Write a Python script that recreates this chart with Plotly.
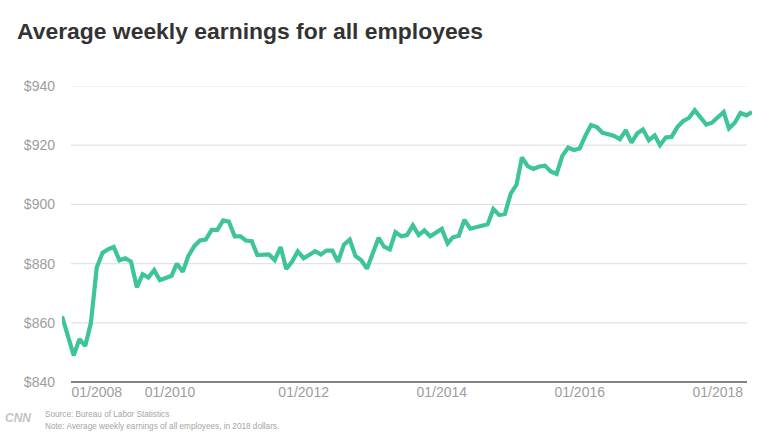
import pandas as pd
import plotly.graph_objects as go

# Monthly average weekly earnings (2018 dollars), Jul 2008 .. Jul 2018
start_month = "2008-07-01"
earnings = [
    862.2, 855.0, 849.0, 854.5, 852.2, 860.0, 878.7, 883.7, 884.8, 885.6,
    881.1, 881.8, 880.7, 872.0, 876.4, 875.3, 877.8, 874.4, 875.1, 875.9,
    880.0, 877.2, 882.6, 885.9, 887.8, 888.1, 891.4, 891.4, 894.6, 894.2,
    889.2, 889.2, 887.8, 887.6, 882.9, 883.1, 883.1, 881.2, 885.6, 878.2,
    880.7, 884.1, 881.8, 883.0, 884.2, 883.1, 884.4, 884.4, 880.6, 886.4,
    888.1, 882.6, 881.1, 878.3, 883.3, 888.7, 885.7, 884.8, 890.6, 889.2,
    889.6, 892.9, 889.6, 891.2, 889.2, 890.3, 891.7, 886.8, 888.9, 889.4,
    894.8, 891.8, 892.3, 892.9, 893.3, 898.4, 896.4, 896.8, 903.6, 906.7,
    915.9, 912.9, 912.0, 912.8, 913.1, 911.1, 910.3, 916.4, 919.2, 918.4,
    918.9, 923.3, 926.8, 926.1, 924.2, 923.7, 923.1, 922.0, 925.1, 920.9,
    924.0, 925.3, 921.7, 923.3, 920.0, 922.6, 922.8, 926.1, 928.1, 929.2,
    931.8, 929.4, 927.0, 927.6, 929.6, 931.2, 925.7, 927.6, 930.9, 930.1,
    931.2,
]
months = pd.date_range(start_month, periods=len(earnings), freq="MS")

# Tick labels as the reference draws them (first two are shifted in the original)
tick_dates = ["2009-01-01", "2010-01-24", "2012-01-01", "2014-01-01", "2016-01-01", "2018-01-01"]
tick_labels = ["01/2008", "01/2010", "01/2012", "01/2014", "01/2016", "01/2018"]
y_ticks = [840, 860, 880, 900, 920, 940]
y_labels = ["$" + str(v) for v in y_ticks]

title_text = "Average weekly earnings for all employees"
source_text = "Source: Bureau of Labor Statistics"
note_text = "Note: Average weekly earnings of all employees, in 2018 dollars."

W, H = 780, 439
ML, MR, MT, MB = 62, 28, 86, 57
plot_w = W - ML - MR
plot_h = H - MT - MB

fig = go.Figure()
fig.add_trace(go.Scatter(
    x=months, y=earnings, mode="lines",
    line=dict(color="#3ec499", width=4.2),
    hoverinfo="skip",
))

# gridlines (inset slightly from the line's extent, as in the reference)
gx0 = 9 / plot_w
gx1 = (plot_w - 5) / plot_w
shapes = []
for v in y_ticks[1:]:
    shapes.append(dict(type="line", xref="paper", yref="y", x0=gx0, x1=gx1, y0=v, y1=v,
                       line=dict(color="#e2e2e8", width=1.2), layer="below"))
# baseline axis line
shapes.append(dict(type="line", xref="paper", yref="paper", x0=gx0, x1=gx1, y0=0, y1=0,
                   line=dict(color="#5a5a5a", width=1.6), layer="above"))

fig.update_layout(
    width=W, height=H,
    margin=dict(l=ML, r=MR, t=MT, b=MB),
    paper_bgcolor="white", plot_bgcolor="white",
    showlegend=False,
    font=dict(family="Liberation Sans, Arial, sans-serif", color="#9a9a9a"),
    title=dict(
        text=title_text,
        font=dict(family="Liberation Sans, Arial, sans-serif", size=22.9, color="#333333", weight="bold"),
        xref="container", yref="container",
        x=17 / W, xanchor="left",
        y=1 - 31 / H, yanchor="middle",
    ),
    xaxis=dict(
        range=[months[0], months[-1]],
        showgrid=False, zeroline=False, showline=False,
        tickmode="array", tickvals=tick_dates, ticktext=tick_labels,
        ticks="", tickfont=dict(size=14, color="#9d9d9d"),
        fixedrange=True,
    ),
    yaxis=dict(
        range=[y_ticks[0], y_ticks[-1]],
        showgrid=False, zeroline=False, showline=False,
        tickmode="array", tickvals=y_ticks, ticktext=y_labels,
        ticks="", tickfont=dict(size=14, color="#9d9d9d"),
        ticklabelstandoff=6,
        fixedrange=True,
    ),
    shapes=shapes,
    annotations=[
        dict(text=source_text, xref="paper", yref="paper", x=(43 - ML) / plot_w, y=-(414 - (H - MB)) / plot_h,
             xanchor="left", yanchor="middle", showarrow=False,
             font=dict(size=8.2, color="#a5a5a5")),
        dict(text=note_text, xref="paper", yref="paper", x=(43 - ML) / plot_w, y=-(426 - (H - MB)) / plot_h,
             xanchor="left", yanchor="middle", showarrow=False,
             font=dict(size=8.2, color="#a5a5a5")),
        dict(text="<b><i>CNN</i></b>", xref="paper", yref="paper", x=(18 - ML) / plot_w, y=-(418 - (H - MB)) / plot_h,
             xanchor="center", yanchor="middle", showarrow=False,
             font=dict(size=12, color="#c4c4c4", family="Liberation Sans, Arial, sans-serif")),
    ],
)

fig.write_html("out.html")
